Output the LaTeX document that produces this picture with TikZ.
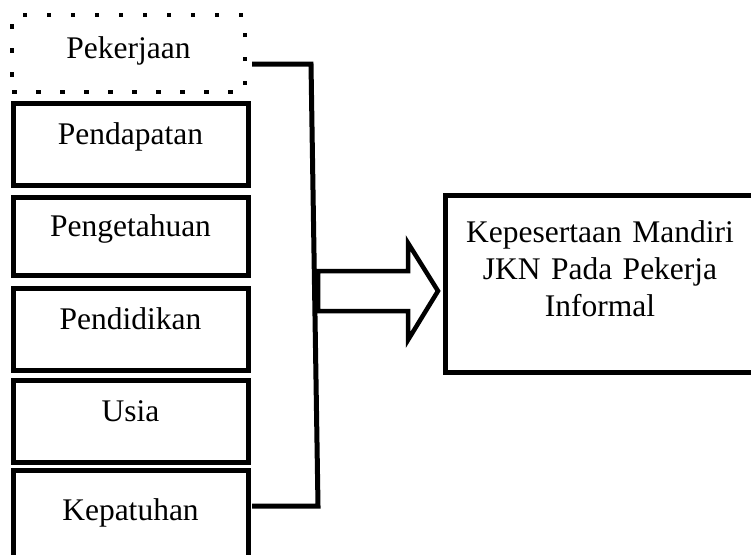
\documentclass[tikz,border=0pt]{standalone}
\usepackage{fontspec}
\setmainfont{Liberation Serif}
\begin{document}
\begin{tikzpicture}[x=1pt,y=-1pt,
        factor/.style={draw,line width=5pt,minimum width=235pt,minimum height=82pt,inner sep=0pt,outer sep=0pt,
            text height=16pt,text depth=16pt,font=\fontsize{31.5}{37}\selectfont},
        dotbox/.style={factor,line width=4.5pt,dash pattern=on 4.5pt off 19.5pt,minimum width=233pt,minimum height=77pt,
            text height=20.5pt,text depth=11.5pt},
        bracket/.style={line width=5pt,line join=miter},
        blockarrow/.style={line width=4.5pt,line join=miter}]
        \useasboundingbox (0,0) rectangle (751,554);
        \node[dotbox] (pek) at (128.5,53.5) {Pekerjaan};
        \node[factor] (pen) at (130.5,144) {Pendapatan};
        \node[factor,minimum height=78pt] (pgt) at (130.5,236) {Pengetahuan};
        \node[factor] (pdd) at (130.5,329.5) {Pendidikan};
        \node[factor] (usi) at (130.5,421) {Usia};
        \node[factor,minimum height=92pt,text height=20pt,text depth=12pt] (kep) at (130.5,516) {Kepatuhan};

        \node[factor,minimum width=310pt,minimum height=177pt,text width=300pt,align=center,
            text height=21pt,text depth=104pt] (jkn) at (600,283.5) {Kepesertaan Mandiri\\JKN Pada Pekerja\\Informal};

        % kurung penghubung
        \coordinate (brtop) at (311,64);
        \coordinate (brbot) at (318,506);
        \draw[bracket] ([xshift=7pt]pek.east |- brtop) -- (brtop) -- (brbot) -- ([xshift=4pt]kep.east |- brbot);

        % panah blok
        \draw[blockarrow] (318,271) -- (408,271) -- (408,243) -- (438,291) -- (408,340) -- (408,311) -- (318,311) -- cycle;
    \end{tikzpicture}
\end{document}
